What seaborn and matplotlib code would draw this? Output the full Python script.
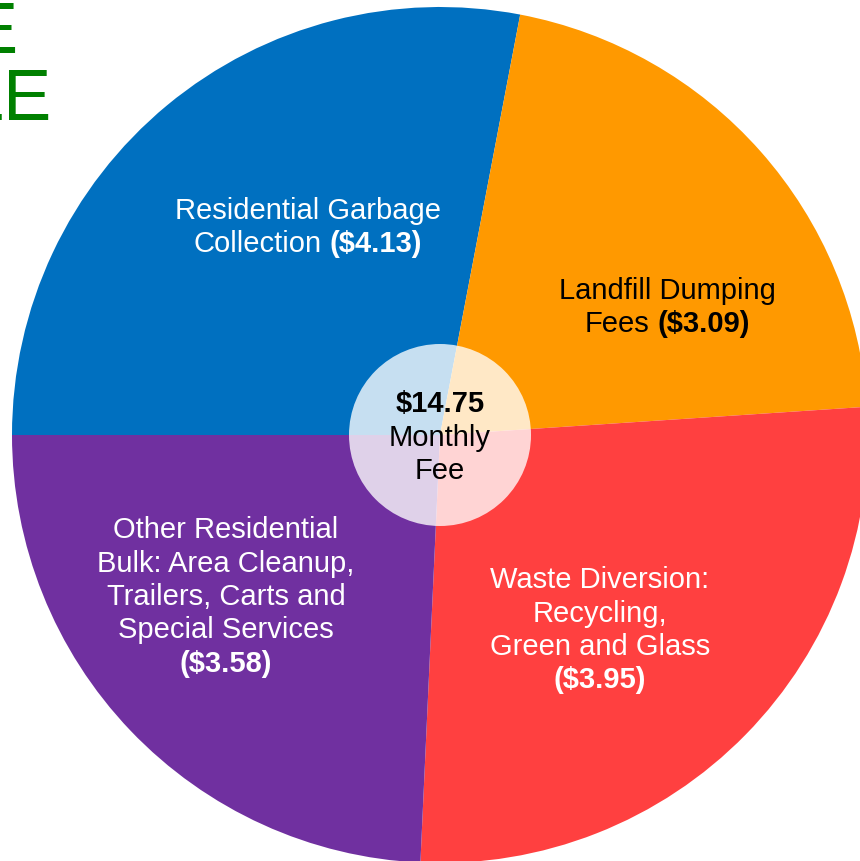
import matplotlib
matplotlib.use('Agg')
import matplotlib.pyplot as plt
import seaborn as sns

# ── data ────────────────────────────────────────────────────
categories = ['Residential Garbage Collection', 'Landfill Dumping Fees',
              'Waste Diversion', 'Other Residential']
fees = [4.13, 3.09, 3.95, 3.58]
total_fee = 14.75
slice_colors = ['#0070C0', '#FF9900', '#FF4040', '#7030A0']
text_colors = ['white', 'black', 'white', 'white']

# label lines: list of lines, each line is a list of (text, bold)
label_lines = [
    [[('Residential Garbage', False)],
     [('Collection', False), ('($4.13)', True)]],
    [[('Landfill Dumping', False)],
     [('Fees', False), ('($3.09)', True)]],
    [[('Waste Diversion:', False)], [('Recycling,', False)],
     [('Green and Glass', False)], [('($3.95)', True)]],
    [[('Other Residential', False)], [('Bulk: Area Cleanup,', False)],
     [('Trailers, Carts and', False)], [('Special Services', False)],
     [('($3.58)', True)]],
]
center_lines = [[('$14.75', True)], [('Monthly', False)], [('Fee', False)]]

# ── layout (pixels, y from top) ─────────────────────────────
W, H = 860, 861
CX, CY, R = 440, 435, 428
label_pos = [(308, 219), (667, 299), (600, 588), (226, 538)]
center_pos = (440, 412)
LINE_H = 33.5
FS = 21

sns.set_theme(style='white')
plt.rcParams['font.family'] = ['Liberation Sans', 'DejaVu Sans']

fig = plt.figure(figsize=(W / 100, H / 100), dpi=100)
ax = fig.add_axes([0, 0, 1, 1])
ax.pie(fees, colors=slice_colors, startangle=180, counterclock=False,
       radius=1, wedgeprops=dict(linewidth=0))
ax.add_patch(plt.Circle((0, 0), 91 / R, color='white', alpha=0.78, lw=0))
ax.set_xlim(-CX / R, (W - CX) / R)
ax.set_ylim(-(H - CY) / R, CY / R)
ax.set_aspect('auto')
ax.axis('off')

renderer = fig.canvas.get_renderer()


def text_width(s, bold):
    t = fig.text(0, 0, s, fontsize=FS, fontweight='bold' if bold else 'normal')
    w = t.get_window_extent(renderer).width
    t.remove()
    return w


space_w = text_width('x x', False) - text_width('xx', False)


def draw_lines(cx, y0, lines, color):
    for i, parts in enumerate(lines):
        y = y0 + i * LINE_H
        widths = [text_width(s, b) for s, b in parts]
        total = sum(widths) + space_w * (len(parts) - 1)
        x = cx - total / 2
        for (s, b), w in zip(parts, widths):
            fig.text(x / W, 1 - y / H, s, fontsize=FS, color=color,
                     fontweight='bold' if b else 'normal',
                     ha='left', va='baseline')
            x += w + space_w


for (px, py), lines, col in zip(label_pos, label_lines, text_colors):
    draw_lines(px, py, lines, col)
draw_lines(center_pos[0], center_pos[1], center_lines, 'black')

# cropped green heading in the top-left corner
fig.text(17 / W, 1 - 53 / H, 'E', fontsize=52, color='#008000',
         ha='right', va='baseline')
fig.text(51 / W, 1 - 120 / H, 'LE', fontsize=52, color='#008000',
         ha='right', va='baseline')

fig.savefig('out.png', dpi=100)
plt.close(fig)
